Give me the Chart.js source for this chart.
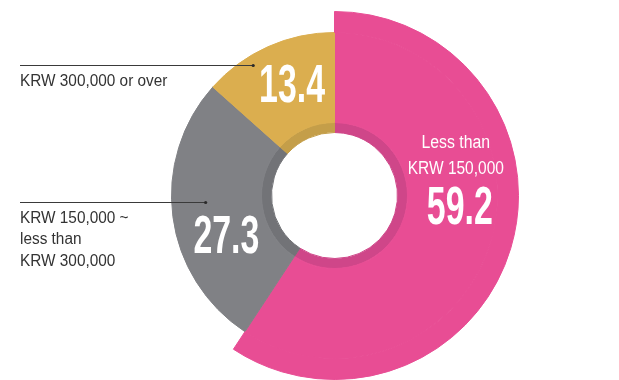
<!DOCTYPE html>
<html>
<head>
<meta charset="utf-8">
<script src="https://cdn.jsdelivr.net/npm/chart.js@4.4.1/dist/chart.umd.min.js"></script>
<style>
  html, body { margin: 0; padding: 0; background: #ffffff; }
  #wrap { width: 619px; height: 380px; position: relative; }
</style>
</head>
<body>
<div id="wrap"><canvas id="c" width="619" height="380"></canvas></div>
<script>
// ---- data ----
const categories = [
  ["Less than", "KRW 150,000"],
  ["KRW 150,000 ~", "less than", "KRW 300,000"],
  ["KRW 300,000 or over"]
];
const shares = [59.2, 27.3, 13.4];
const valueLabels = ["59.2", "27.3", "13.4"];

// ---- style ----
const fillColors = ["#E84D94", "#808185", "#DBAE4F"];
const ringColors = ["#CF4689", "#727377", "#C49E49"];
const outerOnly = ["#E84D94", "rgba(0,0,0,0)", "rgba(0,0,0,0)"];

// label placement: [fraction along slice, radius px]
const valuePlace = [[0.45, 126], [0.36, 116], [0.56, 117]];
const leaderPlace = [null, [0.548, 129], [0.34, 154]];

function pointOn(arc, frac, r) {
  const a = arc.startAngle + (arc.endAngle - arc.startAngle) * frac;
  return { x: arc.x + r * Math.cos(a), y: arc.y + r * Math.sin(a) };
}
function condensed(ctx, text, x, y, sx) {
  ctx.save();
  ctx.translate(x, y);
  ctx.scale(sx, 1);
  ctx.fillText(text, 0, 0);
  ctx.restore();
}

const labelPlugin = {
  id: 'labels',
  afterDraw(chart) {
    const ctx = chart.ctx;
    const arcs = chart.getDatasetMeta(1).data;
    ctx.save();
    ctx.textBaseline = 'middle';
    // values
    arcs.forEach((arc, i) => {
      const p = pointOn(arc, valuePlace[i][0], valuePlace[i][1]);
      ctx.fillStyle = '#ffffff';
      ctx.textAlign = 'center';
      ctx.font = 'bold 53px "Liberation Sans", Arial, sans-serif';
      condensed(ctx, valueLabels[i], p.x, p.y + 1, 0.64);
      if (i === 0) {
        ctx.font = '18px "Liberation Sans", Arial, sans-serif';
        condensed(ctx, categories[0][0], p.x - 4, p.y - 66, 0.88);
        condensed(ctx, categories[0][1], p.x - 4, p.y - 40, 0.86);
      }
    });
    // leaders + side labels
    ctx.textAlign = 'left';
    ctx.font = '16px "Liberation Sans", Arial, sans-serif';
    [2, 1].forEach((i) => {
      const p = pointOn(arcs[i], leaderPlace[i][0], leaderPlace[i][1]);
      const y = Math.round(p.y) + 0.5;
      ctx.strokeStyle = '#3a3a3a';
      ctx.lineWidth = 1;
      ctx.beginPath();
      ctx.moveTo(20, y);
      ctx.lineTo(p.x, y);
      ctx.stroke();
      ctx.fillStyle = '#2a2a2a';
      ctx.beginPath();
      ctx.arc(p.x, y, 1.6, 0, Math.PI * 2);
      ctx.fill();
      ctx.fillStyle = '#333333';
      categories[i].forEach((line, k) => {
        condensed(ctx, line, 20, y + 16 + k * 21.5, 0.96);
      });
    });
    ctx.restore();
  }
};

new Chart(document.getElementById('c'), {
  type: 'doughnut',
  data: {
    labels: categories.map(c => c.join(' ')),
    datasets: [
      { data: shares, backgroundColor: outerOnly, borderColor: outerOnly, borderWidth: 1, weight: 21 },
      { data: shares, backgroundColor: fillColors, borderColor: fillColors, borderWidth: 1, weight: 90 },
      { data: shares, backgroundColor: ringColors, borderColor: ringColors, borderWidth: 1, weight: 10 }
    ]
  },
  options: {
    responsive: false,
    animation: false,
    cutout: 63,
    rotation: 0,
    layout: { padding: { left: 150, right: 100, top: 11, bottom: 0 } },
    plugins: { legend: { display: false }, tooltip: { enabled: false } },
    events: []
  },
  plugins: [labelPlugin]
});
</script>
</body>
</html>
